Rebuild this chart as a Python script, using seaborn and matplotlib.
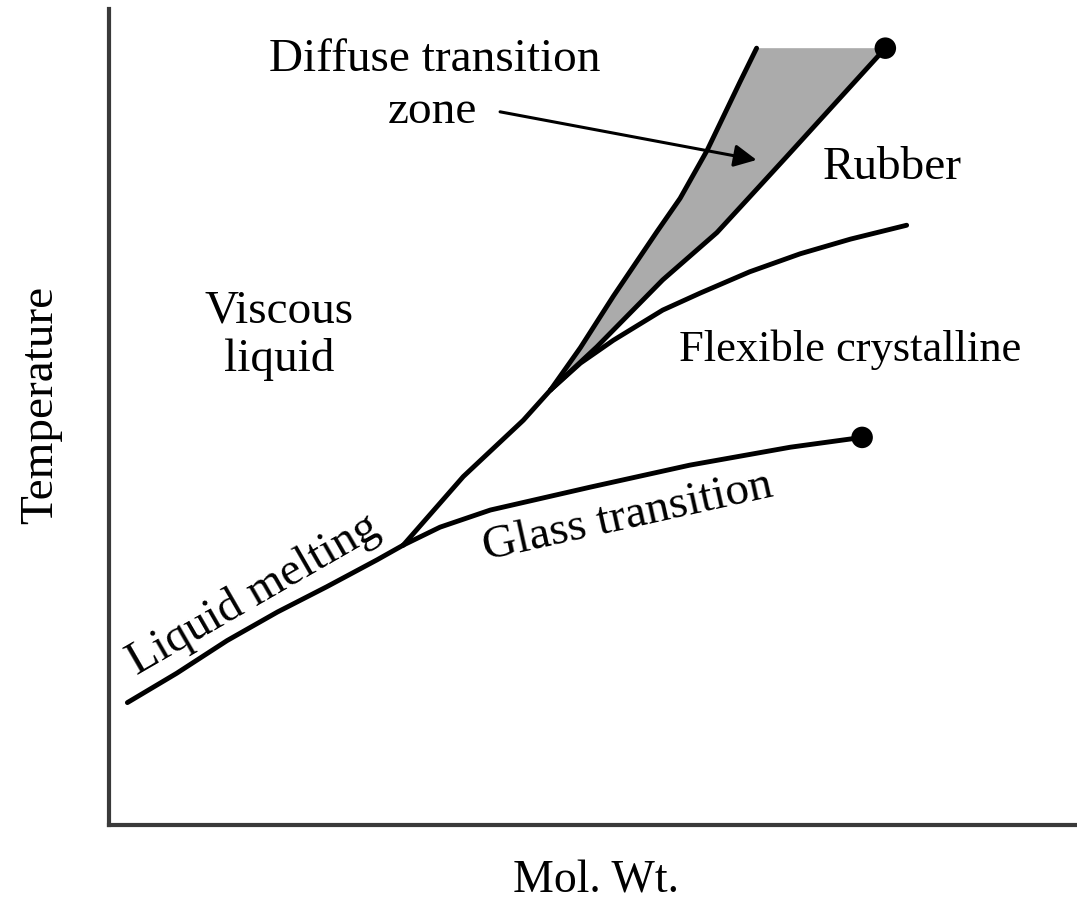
import numpy as np
import matplotlib
matplotlib.use("Agg")
import matplotlib.pyplot as plt
import pandas as pd
import seaborn as sns

# schematic phase diagram, arbitrary units (0-100 on both axes)
liq_x = [1.9, 7.0, 12.2, 17.4, 22.5, 27.7, 30.4]
liq_y = [15.0, 18.6, 22.6, 26.1, 29.2, 32.5, 34.3]

glass_x = [30.4, 34.2, 39.4, 49.7, 60.0, 70.4, 77.8]
glass_y = [34.3, 36.5, 38.6, 41.4, 44.1, 46.3, 47.5]

# upper edge of the diffuse zone (viscous liquid / rubber)
upper_x = [30.4, 36.6, 42.8, 45.6, 48.7, 52.1, 56.6, 59.0, 61.8, 65.2, 66.9]
upper_y = [34.3, 42.7, 49.6, 53.3, 58.5, 64.8, 72.7, 76.8, 82.7, 91.1, 95.2]

# lower edge of the diffuse zone, ends at the dot
lower_x = [45.6, 50.4, 57.2, 62.8, 65.9, 70.0, 80.2]
lower_y = [53.3, 58.6, 66.8, 72.6, 76.6, 81.9, 95.2]

flex_x = [45.6, 48.7, 52.1, 57.2, 61.1, 66.2, 71.4, 76.6, 82.4]
flex_y = [53.3, 56.6, 59.4, 63.1, 65.2, 67.8, 70.0, 71.8, 73.5]

dots_x = [80.2, 77.8]
dots_y = [95.2, 47.5]

arrow_start = (40.4, 87.4)
arrow_tip = (66.9, 81.5)

sns.set_theme(style="white")
plt.rcParams['font.family'] = ['Liberation Serif', 'DejaVu Serif']
plt.rcParams['text.color'] = 'black'
plt.rcParams['axes.labelcolor'] = 'black'

fig = plt.figure(figsize=(10.77, 9.05), dpi=100)
ax = fig.add_axes([109 / 1077, 80 / 905, 968 / 1077, 816 / 905])

# shaded diffuse transition zone
zone_x = upper_x[3:] + lower_x[::-1]
zone_y = upper_y[3:] + lower_y[::-1]
ax.fill(zone_x, zone_y, color='#ababab', lw=0, zorder=1)

lw = 3.5
for xs, ys in [(liq_x, liq_y), (glass_x, glass_y), (upper_x, upper_y),
               (lower_x, lower_y), (flex_x, flex_y)]:
    sns.lineplot(x=xs, y=ys, sort=False, color='black', lw=lw, ax=ax,
                 estimator=None, zorder=3)

sns.scatterplot(x=dots_x, y=dots_y, color='black', s=240, ax=ax,
                edgecolor='none', zorder=4)

ax.annotate('', xy=arrow_tip, xytext=arrow_start,
            arrowprops=dict(arrowstyle='-|>', lw=2.2, color='black',
                            mutation_scale=34, shrinkA=0, shrinkB=0))

fs = 34
ax.text(33.7, 93.8, 'Diffuse transition', fontsize=fs, ha='center', va='center')
ax.text(33.4, 87.4, 'zone', fontsize=fs, ha='center', va='center')
ax.text(80.9, 80.5, 'Rubber', fontsize=fs, ha='center', va='center')
ax.text(17.6, 60.0, 'Viscous\nliquid', fontsize=fs, ha='center', va='center',
        linespacing=1.15)
ax.text(76.6, 58.3, 'Flexible crystalline', fontsize=32, ha='center', va='center')
ax.text(53.6, 37.8, 'Glass transition', fontsize=fs, ha='center', va='center',
        rotation=12.5)
ax.text(14.9, 28.2, 'Liquid melting', fontsize=fs, ha='center', va='center',
        rotation=30)

ax.set_xlim(0, 100)
ax.set_ylim(0, 100)
ax.set_xticks([])
ax.set_yticks([])
ax.set_xlabel('Mol. Wt.', fontsize=33)
ax.set_ylabel('Temperature', fontsize=fs)
ax.xaxis.set_label_coords(0.503, -0.043)
ax.yaxis.set_label_coords(-0.048, 0.515)

sns.despine(ax=ax)
for side in ['left', 'bottom']:
    ax.spines[side].set_color('#3a3a3a')
    ax.spines[side].set_linewidth(3)

fig.savefig('out.png', dpi=100)
